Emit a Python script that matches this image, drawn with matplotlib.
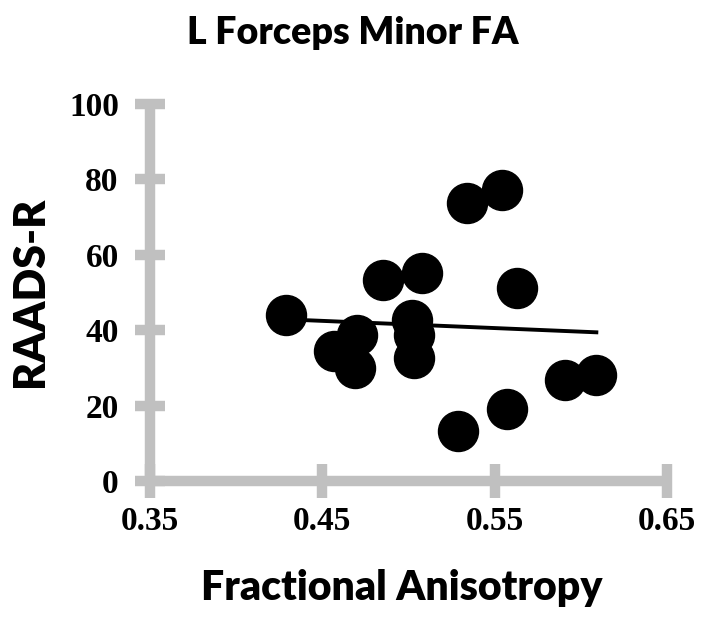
import matplotlib
matplotlib.use('Agg')
import numpy as np
import matplotlib.pyplot as plt

# values
fa = [0.429, 0.457, 0.470, 0.469, 0.485, 0.508, 0.502, 0.503, 0.503,
      0.534, 0.554, 0.563, 0.529, 0.557, 0.591, 0.609]
raads = [44.0, 34.4, 38.8, 30.0, 53.4, 55.2, 42.8, 38.6, 32.7,
         73.7, 77.2, 51.2, 13.2, 19.0, 26.9, 28.2]
xticks = [0.35, 0.45, 0.55, 0.65]
yticks = [0, 20, 40, 60, 80, 100]

grey = '#c0c0c0'
label_font = 'Lato'

fig = plt.figure(figsize=(7.05, 6.26), dpi=100)
ax = fig.add_axes([150 / 705, 1 - 481 / 626, 517 / 705, 377 / 626])

ax.scatter(fa, raads, s=830, color='black', zorder=3, clip_on=False)

# linear trend line
k, b = np.polyfit(fa, raads, 1)
xs = np.array([min(fa), max(fa)])
ax.plot(xs, k * xs + b, color='black', lw=2.8, zorder=4)

ax.set_xlim(0.35, 0.65)
ax.set_ylim(0, 100)
ax.set_xticks(xticks)
ax.set_xticklabels(['%.2f' % v for v in xticks])
ax.set_yticks(yticks)

for s in ['top', 'right']:
    ax.spines[s].set_visible(False)
for s in ['left', 'bottom']:
    ax.spines[s].set_color(grey)
    ax.spines[s].set_linewidth(7.5)
    ax.spines[s].set_capstyle('butt')

ax.tick_params(axis='x', direction='inout', length=24, width=7.5, color=grey, pad=6)
ax.tick_params(axis='y', direction='inout', length=21, width=7.5, color=grey, pad=12)
for lab in ax.get_xticklabels() + ax.get_yticklabels():
    lab.set_fontfamily('Liberation Serif')
    lab.set_fontweight('bold')
    lab.set_fontsize(24)

fig.text(0.5, 1 - 33 / 626, 'L Forceps Minor FA', fontsize=27, fontweight='heavy',
         family=label_font, ha='center', va='center')
fig.text(402 / 705, 1 - 588 / 626, 'Fractional Anisotropy', fontsize=29.5,
         fontweight='heavy', family=label_font, ha='center', va='center')
fig.text(30 / 705, 1 - 292 / 626, 'RAADS-R', fontsize=31, fontweight='heavy',
         family=label_font, ha='center', va='center', rotation=90)

fig.savefig('out.png', dpi=100)
